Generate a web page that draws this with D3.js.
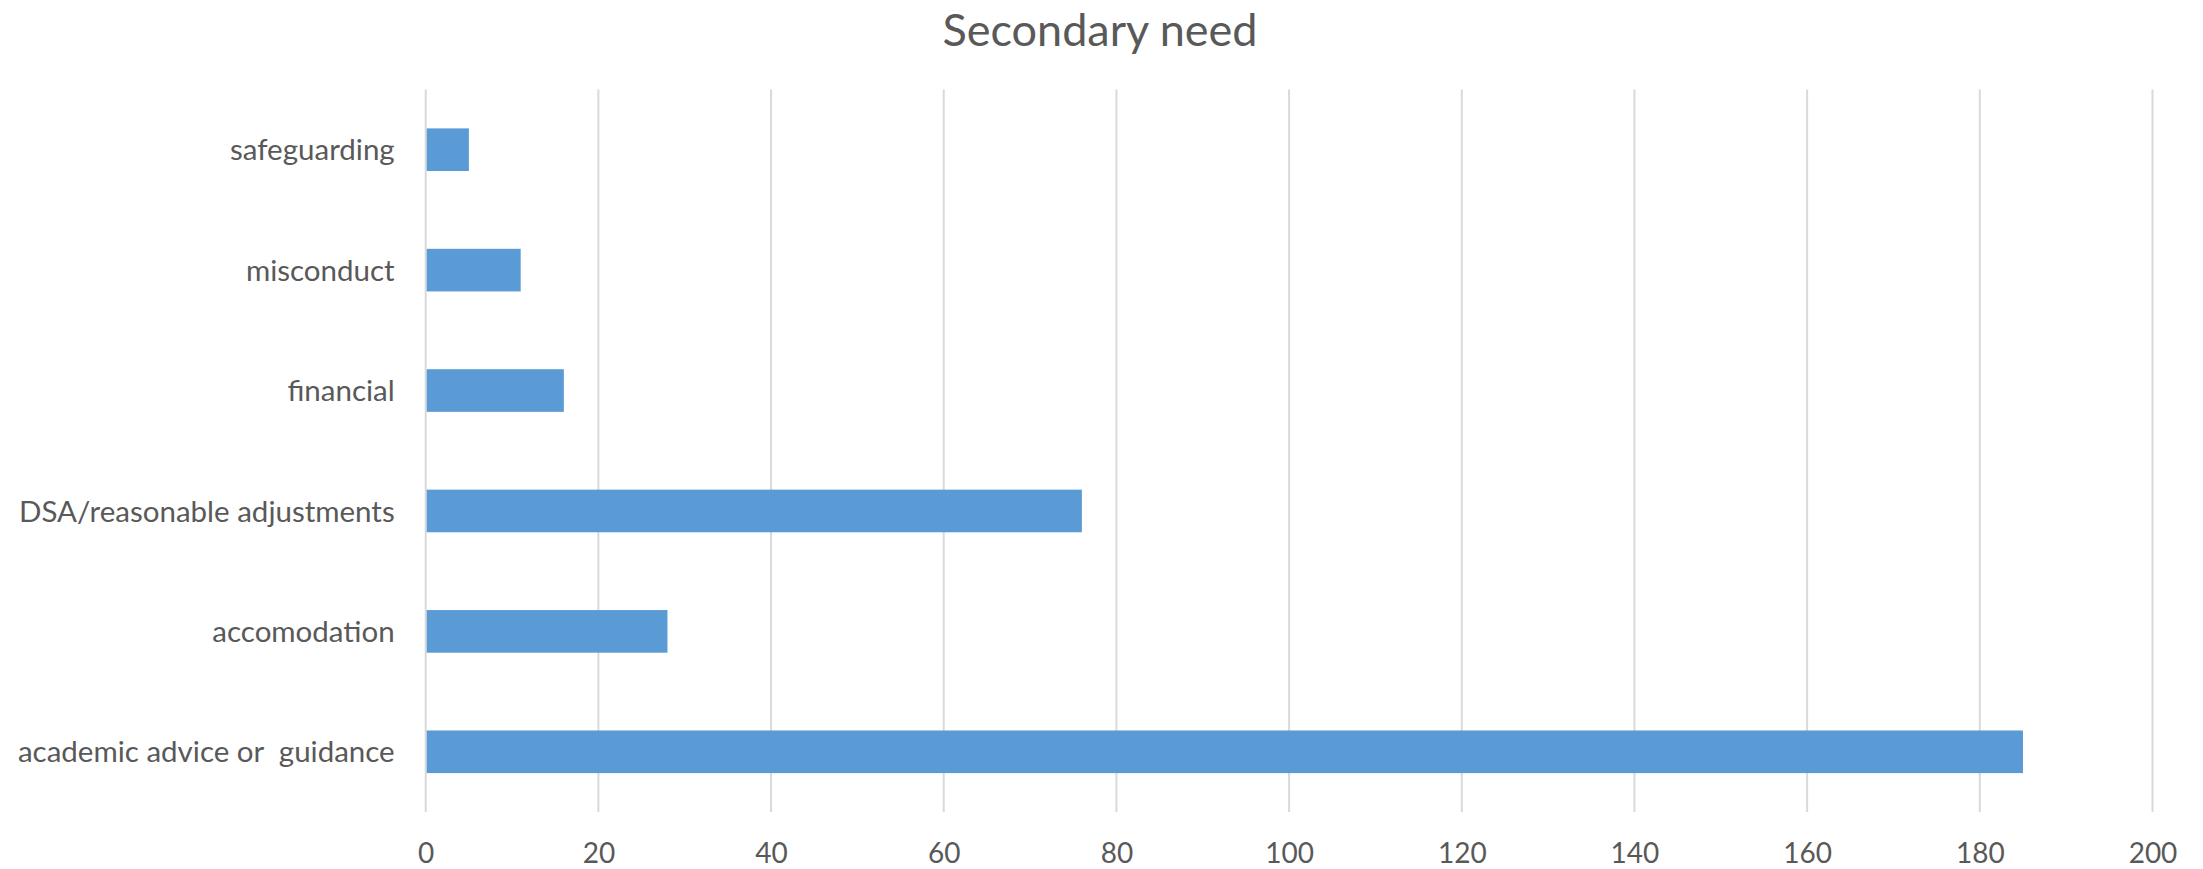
<!DOCTYPE html>
<html>
<head>
<meta charset="utf-8">
<script src="https://cdn.jsdelivr.net/npm/d3@7"></script>
<style>
  body { margin: 0; background: #fff; }
  text { font-family: Lato, "Open Sans", sans-serif; fill: #595959; white-space: pre; }
</style>
</head>
<body>
<div class="chart"></div>
<script>
const w = 2203;
const h = 869;

// data, top to bottom as drawn
const categories = [
  'safeguarding',
  'misconduct',
  'financial',
  'DSA/reasonable adjustments',
  'accomodation',
  'academic advice or  guidance'
];
const counts = [5, 11, 16, 76, 28, 185];
const xTicks = [0, 20, 40, 60, 80, 100, 120, 140, 160, 180, 200];

const plot = { left: 425.7, right: 2152.5, top: 89.5, bottom: 812 };

const svg = d3
  .select('.chart')
  .append('svg')
  .attr('width', w)
  .attr('height', h);

// xScale
const xScale = d3
  .scaleLinear()
  .domain([0, 200])
  .range([plot.left, plot.right]);

// yScale
const yScale = d3
  .scaleBand()
  .domain(categories)
  .range([plot.top, plot.bottom])
  .paddingInner(0.646)
  .paddingOuter(0.323);

// grid
svg
  .append('g')
  .selectAll('line')
  .data(xTicks)
  .enter()
  .append('line')
  .attr('x1', (d) => xScale(d))
  .attr('x2', (d) => xScale(d))
  .attr('y1', plot.top)
  .attr('y2', plot.bottom)
  .attr('stroke', '#d9d9d9')
  .attr('stroke-width', 2);

// bars
svg
  .append('g')
  .selectAll('rect')
  .data(categories)
  .enter()
  .append('rect')
  .attr('x', xScale(0) + 1)
  .attr('y', (d) => yScale(d))
  .attr('width', (d, i) => xScale(counts[i]) - xScale(0) - 1)
  .attr('height', yScale.bandwidth())
  .attr('fill', '#5b9bd5');

// Bottom axis
const xAxis = d3.axisBottom(xScale).tickValues(xTicks).tickSize(0).tickPadding(0);
const gx = svg
  .append('g')
  .attr('transform', `translate(0,${plot.bottom})`)
  .call(xAxis);
gx.select('.domain').remove();
gx.selectAll('text')
  .attr('dy', null)
  .attr('y', 51)
  .style('font-size', '28px')
  .style('fill', '#595959');

// Left axis
const yAxis = d3.axisLeft(yScale).tickSize(0).tickPadding(31);
const gy = svg
  .append('g')
  .attr('transform', `translate(${plot.left},0)`)
  .call(yAxis);
gy.select('.domain').remove();
gy.selectAll('text')
  .attr('dy', '0.36em')
  .style('font-size', '29.5px')
  .style('fill', '#595959');

// title
svg
  .append('text')
  .attr('x', 1100)
  .attr('y', 46)
  .attr('text-anchor', 'middle')
  .style('font-size', '45px')
  .text('Secondary need');
</script>
</body>
</html>
